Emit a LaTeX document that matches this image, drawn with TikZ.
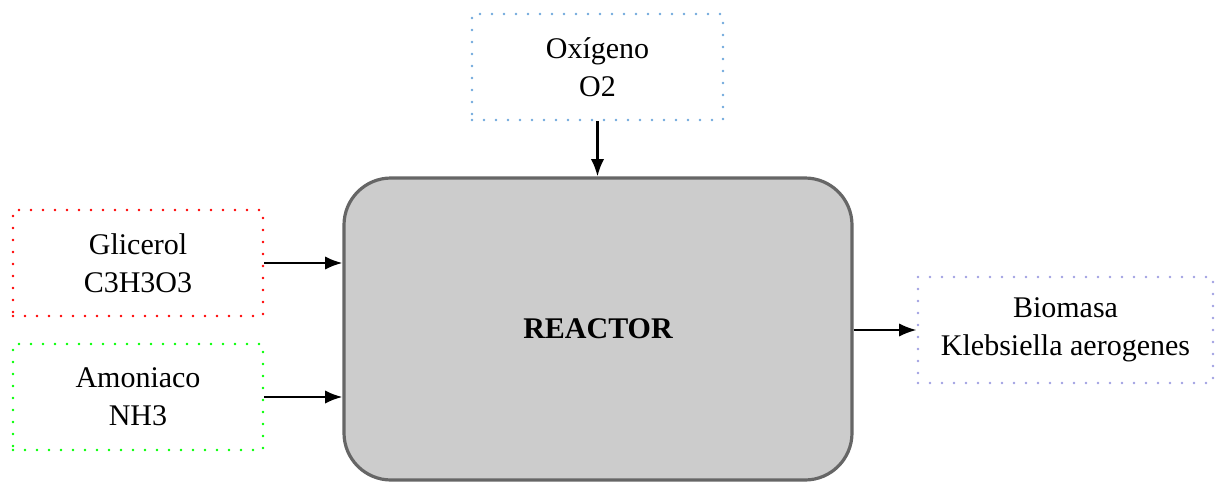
\documentclass[tikz,border=0pt]{standalone}
\usepackage{fontspec}
\setmainfont{Liberation Serif}
\usetikzlibrary{arrows.meta}
\definecolor{azulclaro}{RGB}{111,168,220}
\definecolor{lila}{RGB}{160,160,225}
\definecolor{grisreactor}{RGB}{204,204,204}
\definecolor{bordereactor}{RGB}{102,102,102}
\tikzset{
	caja/.style={draw, line width=2.2pt, line cap=round, dash pattern=on 0pt off 9pt,
		inner sep=0pt, align=center, minimum height=79.5pt, font=\fontsize{22.5}{28.7}\selectfont},
	flecha/.style={line width=1.7pt, -{Latex[length=13pt,width=10pt]}}
}
\begin{document}
\begin{tikzpicture}[x=0.75pt, y=-0.75pt]
		\useasboundingbox (0,0) rectangle (1215,482);
		%entradas
		\node[caja, azulclaro, text=black, minimum width=188.25pt] (oxigeno) at (597.5,67) {Oxígeno\\O2};
		\node[caja, red, text=black, minimum width=187.5pt] (glicerol) at (138,263) {Glicerol\\C3H3O3};
		\node[caja, green, text=black, minimum width=187.5pt] (amoniaco) at (138,397) {Amoniaco\\NH3};
		%reactor
		\node[draw=bordereactor, fill=grisreactor, line width=2.4pt, rounded corners=35.25pt,
			minimum width=381pt, minimum height=226.5pt, inner sep=0pt,
			font=\fontsize{22.5}{28.7}\selectfont\bfseries] (reactor) at (598,329) {REACTOR};
		%salida
		\node[caja, lila, text=black, minimum width=221.25pt] (biomasa) at (1065.5,330) {Biomasa\\Klebsiella aerogenes};

		\draw[flecha] (oxigeno.south) -- (oxigeno.south |- reactor.north);
		\draw[flecha] (glicerol.east) -- (glicerol.east -| reactor.west);
		\draw[flecha] (amoniaco.east) -- (amoniaco.east -| reactor.west);
		\draw[flecha] (reactor.east |- biomasa.west) -- (biomasa.west);
	\end{tikzpicture}
\end{document}
